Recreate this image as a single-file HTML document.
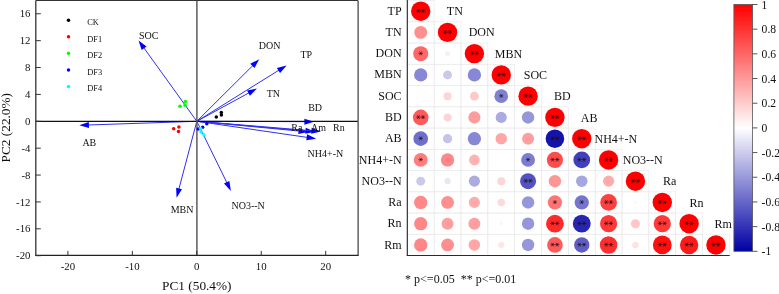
<!DOCTYPE html>
<html><head><meta charset="utf-8"><style>
html,body{margin:0;padding:0;background:#fff;width:779px;height:294px;overflow:hidden;}
svg{display:block;font-family:"Liberation Serif",serif;will-change:transform;}
</style></head><body>
<svg width="779" height="294" viewBox="0 0 779 294" font-family="Liberation Serif, serif">
<rect width="779" height="294" fill="#fff"/>
<circle cx="68.5" cy="20.2" r="1.75" fill="#000"/>
<text x="87.2" y="25.2" font-size="8.4" fill="#111">CK</text>
<circle cx="68.5" cy="36.8" r="1.75" fill="#f00"/>
<text x="87.2" y="41.8" font-size="8.4" fill="#111">DF1</text>
<circle cx="68.5" cy="53.3" r="1.75" fill="#0f0"/>
<text x="87.2" y="58.3" font-size="8.4" fill="#111">DF2</text>
<circle cx="68.5" cy="69.9" r="1.75" fill="#00f"/>
<text x="87.2" y="74.9" font-size="8.4" fill="#111">DF3</text>
<circle cx="68.5" cy="86.4" r="1.75" fill="#0ff"/>
<text x="87.2" y="91.4" font-size="8.4" fill="#111">DF4</text>
<line x1="196.8" y1="121.3" x2="143.53" y2="47.38" stroke="#3030f0" stroke-width="1.0"/>
<polygon points="138.50,40.40 146.55,46.43 141.68,49.94" fill="#00f"/>
<line x1="196.8" y1="121.3" x2="253.10" y2="65.27" stroke="#3030f0" stroke-width="1.0"/>
<polygon points="259.20,59.20 254.51,68.10 250.28,63.85" fill="#00f"/>
<line x1="196.8" y1="121.3" x2="279.30" y2="69.94" stroke="#3030f0" stroke-width="1.0"/>
<polygon points="286.60,65.40 280.04,73.02 276.86,67.93" fill="#00f"/>
<line x1="196.8" y1="121.3" x2="249.35" y2="92.62" stroke="#3030f0" stroke-width="1.0"/>
<polygon points="256.90,88.50 249.91,95.73 247.04,90.47" fill="#00f"/>
<line x1="196.8" y1="121.3" x2="305.40" y2="121.67" stroke="#3030f0" stroke-width="1.0"/>
<polygon points="314.00,121.70 304.39,124.67 304.41,118.67" fill="#00f"/>
<line x1="196.8" y1="121.3" x2="299.54" y2="131.08" stroke="#3030f0" stroke-width="1.0"/>
<polygon points="308.10,131.90 298.26,133.98 298.83,128.00" fill="#00f"/>
<line x1="196.8" y1="121.3" x2="306.53" y2="130.95" stroke="#3030f0" stroke-width="1.0"/>
<polygon points="315.10,131.70 305.27,133.85 305.80,127.87" fill="#00f"/>
<line x1="196.8" y1="121.3" x2="312.43" y2="130.80" stroke="#3030f0" stroke-width="1.0"/>
<polygon points="321.00,131.50 311.19,133.70 311.68,127.72" fill="#00f"/>
<line x1="196.8" y1="121.3" x2="307.69" y2="137.46" stroke="#3030f0" stroke-width="1.0"/>
<polygon points="316.20,138.70 306.27,140.28 307.13,134.35" fill="#00f"/>
<line x1="196.8" y1="121.3" x2="227.12" y2="183.18" stroke="#3030f0" stroke-width="1.0"/>
<polygon points="230.90,190.90 223.98,183.60 229.37,180.96" fill="#00f"/>
<line x1="196.8" y1="121.3" x2="178.80" y2="189.39" stroke="#3030f0" stroke-width="1.0"/>
<polygon points="176.60,197.70 176.15,187.65 181.95,189.19" fill="#00f"/>
<line x1="196.8" y1="121.3" x2="87.90" y2="125.01" stroke="#3030f0" stroke-width="1.0"/>
<polygon points="79.30,125.30 88.79,121.98 89.00,127.97" fill="#00f"/>
<line x1="35.8" y1="121.3" x2="358.0" y2="121.3" stroke="#111" stroke-width="1.2"/>
<line x1="196.9" y1="0.5" x2="196.9" y2="255.4" stroke="#5c5c5c" stroke-width="1.5"/>
<circle cx="216.3" cy="116.9" r="1.75" fill="#000"/>
<circle cx="221.3" cy="112.5" r="1.75" fill="#000"/>
<circle cx="221.4" cy="114.9" r="1.75" fill="#000"/>
<circle cx="173.7" cy="128.7" r="1.75" fill="#f00"/>
<circle cx="178.9" cy="127.0" r="1.75" fill="#f00"/>
<circle cx="178.5" cy="131.4" r="1.75" fill="#f00"/>
<circle cx="180.0" cy="106.2" r="1.75" fill="#0f0"/>
<circle cx="185.4" cy="101.4" r="1.75" fill="#0f0"/>
<circle cx="185.0" cy="105.3" r="1.75" fill="#0f0"/>
<circle cx="206.8" cy="123.8" r="1.75" fill="#00f"/>
<circle cx="202.6" cy="127.2" r="1.75" fill="#00f"/>
<circle cx="198.2" cy="129.0" r="1.75" fill="#00f"/>
<circle cx="200.6" cy="128.6" r="1.75" fill="#0ff"/>
<circle cx="201.1" cy="132.0" r="1.75" fill="#0ff"/>
<circle cx="204.0" cy="135.0" r="1.75" fill="#0ff"/>
<text x="139" y="38.7" font-size="10" fill="#111">SOC</text>
<text x="258.7" y="48.5" font-size="10" fill="#111">DON</text>
<text x="300.4" y="58.2" font-size="10" fill="#111">TP</text>
<text x="266.7" y="97.4" font-size="10" fill="#111">TN</text>
<text x="308.2" y="110.9" font-size="10" fill="#111">BD</text>
<text x="291.3" y="130.9" font-size="10" fill="#111">Ra</text>
<text x="311.1" y="130.9" font-size="10" fill="#111">Am</text>
<text x="333.0" y="130.9" font-size="10" fill="#111">Rn</text>
<text x="307.6" y="156.5" font-size="10" fill="#111">NH4+-N</text>
<text x="231.5" y="209.2" font-size="10" fill="#111">NO3--N</text>
<text x="170.7" y="213.3" font-size="10" fill="#111">MBN</text>
<text x="82.4" y="145.8" font-size="10" fill="#111">AB</text>
<line x1="35.8" y1="0.5" x2="358.0" y2="0.5" stroke="#333" stroke-width="1.2"/>
<line x1="358.1" y1="0.5" x2="358.1" y2="255.4" stroke="#4a4a4a" stroke-width="1.3"/>
<line x1="35.8" y1="0.5" x2="35.8" y2="255.4" stroke="#333" stroke-width="1.3"/>
<line x1="35.199999999999996" y1="255.4" x2="358.6" y2="255.4" stroke="#222" stroke-width="1.2"/>
<line x1="35.8" y1="255.70" x2="40.8" y2="255.70" stroke="#333" stroke-width="1"/>
<text x="30.5" y="259.30" font-size="10.8" text-anchor="end" fill="#111">-20</text>
<line x1="35.8" y1="228.82" x2="40.8" y2="228.82" stroke="#333" stroke-width="1"/>
<text x="30.5" y="232.42" font-size="10.8" text-anchor="end" fill="#111">-16</text>
<line x1="35.8" y1="201.94" x2="40.8" y2="201.94" stroke="#333" stroke-width="1"/>
<text x="30.5" y="205.54" font-size="10.8" text-anchor="end" fill="#111">-12</text>
<line x1="35.8" y1="175.06" x2="40.8" y2="175.06" stroke="#333" stroke-width="1"/>
<text x="30.5" y="178.66" font-size="10.8" text-anchor="end" fill="#111">-8</text>
<line x1="35.8" y1="148.18" x2="40.8" y2="148.18" stroke="#333" stroke-width="1"/>
<text x="30.5" y="151.78" font-size="10.8" text-anchor="end" fill="#111">-4</text>
<line x1="35.8" y1="121.30" x2="40.8" y2="121.30" stroke="#333" stroke-width="1"/>
<text x="30.5" y="124.90" font-size="10.8" text-anchor="end" fill="#111">0</text>
<line x1="35.8" y1="94.42" x2="40.8" y2="94.42" stroke="#333" stroke-width="1"/>
<text x="30.5" y="98.02" font-size="10.8" text-anchor="end" fill="#111">4</text>
<line x1="35.8" y1="67.54" x2="40.8" y2="67.54" stroke="#333" stroke-width="1"/>
<text x="30.5" y="71.14" font-size="10.8" text-anchor="end" fill="#111">8</text>
<line x1="35.8" y1="40.66" x2="40.8" y2="40.66" stroke="#333" stroke-width="1"/>
<text x="30.5" y="44.26" font-size="10.8" text-anchor="end" fill="#111">12</text>
<line x1="35.8" y1="13.78" x2="40.8" y2="13.78" stroke="#333" stroke-width="1"/>
<text x="30.5" y="17.38" font-size="10.8" text-anchor="end" fill="#111">16</text>
<line x1="67.90" y1="255.4" x2="67.90" y2="250.9" stroke="#333" stroke-width="1"/>
<text x="67.90" y="269.9" font-size="10.8" text-anchor="middle" fill="#111">-20</text>
<line x1="132.35" y1="255.4" x2="132.35" y2="250.9" stroke="#333" stroke-width="1"/>
<text x="132.35" y="269.9" font-size="10.8" text-anchor="middle" fill="#111">-10</text>
<line x1="196.80" y1="255.4" x2="196.80" y2="250.9" stroke="#333" stroke-width="1"/>
<text x="196.80" y="269.9" font-size="10.8" text-anchor="middle" fill="#111">0</text>
<line x1="261.25" y1="255.4" x2="261.25" y2="250.9" stroke="#333" stroke-width="1"/>
<text x="261.25" y="269.9" font-size="10.8" text-anchor="middle" fill="#111">10</text>
<line x1="325.70" y1="255.4" x2="325.70" y2="250.9" stroke="#333" stroke-width="1"/>
<text x="325.70" y="269.9" font-size="10.8" text-anchor="middle" fill="#111">20</text>
<text x="196.8" y="290.3" font-size="13.3" text-anchor="middle" fill="#111">PC1 (50.4%)</text>
<text transform="translate(10.2,127.7) rotate(-90)" x="0" y="0" font-size="13.3" text-anchor="middle" fill="#111">PC2 (22.0%)</text>
<rect x="407.30" y="0.55" width="26.84" height="21.25" fill="none" stroke="#ebebeb" stroke-width="0.7"/>
<rect x="407.30" y="21.80" width="26.84" height="21.25" fill="none" stroke="#ebebeb" stroke-width="0.7"/>
<rect x="434.14" y="21.80" width="26.84" height="21.25" fill="none" stroke="#ebebeb" stroke-width="0.7"/>
<rect x="407.30" y="43.05" width="26.84" height="21.25" fill="none" stroke="#ebebeb" stroke-width="0.7"/>
<rect x="434.14" y="43.05" width="26.84" height="21.25" fill="none" stroke="#ebebeb" stroke-width="0.7"/>
<rect x="460.98" y="43.05" width="26.84" height="21.25" fill="none" stroke="#ebebeb" stroke-width="0.7"/>
<rect x="407.30" y="64.30" width="26.84" height="21.25" fill="none" stroke="#ebebeb" stroke-width="0.7"/>
<rect x="434.14" y="64.30" width="26.84" height="21.25" fill="none" stroke="#ebebeb" stroke-width="0.7"/>
<rect x="460.98" y="64.30" width="26.84" height="21.25" fill="none" stroke="#ebebeb" stroke-width="0.7"/>
<rect x="487.82" y="64.30" width="26.84" height="21.25" fill="none" stroke="#ebebeb" stroke-width="0.7"/>
<rect x="407.30" y="85.55" width="26.84" height="21.25" fill="none" stroke="#ebebeb" stroke-width="0.7"/>
<rect x="434.14" y="85.55" width="26.84" height="21.25" fill="none" stroke="#ebebeb" stroke-width="0.7"/>
<rect x="460.98" y="85.55" width="26.84" height="21.25" fill="none" stroke="#ebebeb" stroke-width="0.7"/>
<rect x="487.82" y="85.55" width="26.84" height="21.25" fill="none" stroke="#ebebeb" stroke-width="0.7"/>
<rect x="514.66" y="85.55" width="26.84" height="21.25" fill="none" stroke="#ebebeb" stroke-width="0.7"/>
<rect x="407.30" y="106.80" width="26.84" height="21.25" fill="none" stroke="#ebebeb" stroke-width="0.7"/>
<rect x="434.14" y="106.80" width="26.84" height="21.25" fill="none" stroke="#ebebeb" stroke-width="0.7"/>
<rect x="460.98" y="106.80" width="26.84" height="21.25" fill="none" stroke="#ebebeb" stroke-width="0.7"/>
<rect x="487.82" y="106.80" width="26.84" height="21.25" fill="none" stroke="#ebebeb" stroke-width="0.7"/>
<rect x="514.66" y="106.80" width="26.84" height="21.25" fill="none" stroke="#ebebeb" stroke-width="0.7"/>
<rect x="541.50" y="106.80" width="26.84" height="21.25" fill="none" stroke="#ebebeb" stroke-width="0.7"/>
<rect x="407.30" y="128.05" width="26.84" height="21.25" fill="none" stroke="#ebebeb" stroke-width="0.7"/>
<rect x="434.14" y="128.05" width="26.84" height="21.25" fill="none" stroke="#ebebeb" stroke-width="0.7"/>
<rect x="460.98" y="128.05" width="26.84" height="21.25" fill="none" stroke="#ebebeb" stroke-width="0.7"/>
<rect x="487.82" y="128.05" width="26.84" height="21.25" fill="none" stroke="#ebebeb" stroke-width="0.7"/>
<rect x="514.66" y="128.05" width="26.84" height="21.25" fill="none" stroke="#ebebeb" stroke-width="0.7"/>
<rect x="541.50" y="128.05" width="26.84" height="21.25" fill="none" stroke="#ebebeb" stroke-width="0.7"/>
<rect x="568.34" y="128.05" width="26.84" height="21.25" fill="none" stroke="#ebebeb" stroke-width="0.7"/>
<rect x="407.30" y="149.30" width="26.84" height="21.25" fill="none" stroke="#ebebeb" stroke-width="0.7"/>
<rect x="434.14" y="149.30" width="26.84" height="21.25" fill="none" stroke="#ebebeb" stroke-width="0.7"/>
<rect x="460.98" y="149.30" width="26.84" height="21.25" fill="none" stroke="#ebebeb" stroke-width="0.7"/>
<rect x="487.82" y="149.30" width="26.84" height="21.25" fill="none" stroke="#ebebeb" stroke-width="0.7"/>
<rect x="514.66" y="149.30" width="26.84" height="21.25" fill="none" stroke="#ebebeb" stroke-width="0.7"/>
<rect x="541.50" y="149.30" width="26.84" height="21.25" fill="none" stroke="#ebebeb" stroke-width="0.7"/>
<rect x="568.34" y="149.30" width="26.84" height="21.25" fill="none" stroke="#ebebeb" stroke-width="0.7"/>
<rect x="595.18" y="149.30" width="26.84" height="21.25" fill="none" stroke="#ebebeb" stroke-width="0.7"/>
<rect x="407.30" y="170.55" width="26.84" height="21.25" fill="none" stroke="#ebebeb" stroke-width="0.7"/>
<rect x="434.14" y="170.55" width="26.84" height="21.25" fill="none" stroke="#ebebeb" stroke-width="0.7"/>
<rect x="460.98" y="170.55" width="26.84" height="21.25" fill="none" stroke="#ebebeb" stroke-width="0.7"/>
<rect x="487.82" y="170.55" width="26.84" height="21.25" fill="none" stroke="#ebebeb" stroke-width="0.7"/>
<rect x="514.66" y="170.55" width="26.84" height="21.25" fill="none" stroke="#ebebeb" stroke-width="0.7"/>
<rect x="541.50" y="170.55" width="26.84" height="21.25" fill="none" stroke="#ebebeb" stroke-width="0.7"/>
<rect x="568.34" y="170.55" width="26.84" height="21.25" fill="none" stroke="#ebebeb" stroke-width="0.7"/>
<rect x="595.18" y="170.55" width="26.84" height="21.25" fill="none" stroke="#ebebeb" stroke-width="0.7"/>
<rect x="622.02" y="170.55" width="26.84" height="21.25" fill="none" stroke="#ebebeb" stroke-width="0.7"/>
<rect x="407.30" y="191.80" width="26.84" height="21.25" fill="none" stroke="#ebebeb" stroke-width="0.7"/>
<rect x="434.14" y="191.80" width="26.84" height="21.25" fill="none" stroke="#ebebeb" stroke-width="0.7"/>
<rect x="460.98" y="191.80" width="26.84" height="21.25" fill="none" stroke="#ebebeb" stroke-width="0.7"/>
<rect x="487.82" y="191.80" width="26.84" height="21.25" fill="none" stroke="#ebebeb" stroke-width="0.7"/>
<rect x="514.66" y="191.80" width="26.84" height="21.25" fill="none" stroke="#ebebeb" stroke-width="0.7"/>
<rect x="541.50" y="191.80" width="26.84" height="21.25" fill="none" stroke="#ebebeb" stroke-width="0.7"/>
<rect x="568.34" y="191.80" width="26.84" height="21.25" fill="none" stroke="#ebebeb" stroke-width="0.7"/>
<rect x="595.18" y="191.80" width="26.84" height="21.25" fill="none" stroke="#ebebeb" stroke-width="0.7"/>
<rect x="622.02" y="191.80" width="26.84" height="21.25" fill="none" stroke="#ebebeb" stroke-width="0.7"/>
<rect x="648.86" y="191.80" width="26.84" height="21.25" fill="none" stroke="#ebebeb" stroke-width="0.7"/>
<rect x="407.30" y="213.05" width="26.84" height="21.25" fill="none" stroke="#ebebeb" stroke-width="0.7"/>
<rect x="434.14" y="213.05" width="26.84" height="21.25" fill="none" stroke="#ebebeb" stroke-width="0.7"/>
<rect x="460.98" y="213.05" width="26.84" height="21.25" fill="none" stroke="#ebebeb" stroke-width="0.7"/>
<rect x="487.82" y="213.05" width="26.84" height="21.25" fill="none" stroke="#ebebeb" stroke-width="0.7"/>
<rect x="514.66" y="213.05" width="26.84" height="21.25" fill="none" stroke="#ebebeb" stroke-width="0.7"/>
<rect x="541.50" y="213.05" width="26.84" height="21.25" fill="none" stroke="#ebebeb" stroke-width="0.7"/>
<rect x="568.34" y="213.05" width="26.84" height="21.25" fill="none" stroke="#ebebeb" stroke-width="0.7"/>
<rect x="595.18" y="213.05" width="26.84" height="21.25" fill="none" stroke="#ebebeb" stroke-width="0.7"/>
<rect x="622.02" y="213.05" width="26.84" height="21.25" fill="none" stroke="#ebebeb" stroke-width="0.7"/>
<rect x="648.86" y="213.05" width="26.84" height="21.25" fill="none" stroke="#ebebeb" stroke-width="0.7"/>
<rect x="675.70" y="213.05" width="26.84" height="21.25" fill="none" stroke="#ebebeb" stroke-width="0.7"/>
<rect x="407.30" y="234.30" width="26.84" height="21.25" fill="none" stroke="#ebebeb" stroke-width="0.7"/>
<rect x="434.14" y="234.30" width="26.84" height="21.25" fill="none" stroke="#ebebeb" stroke-width="0.7"/>
<rect x="460.98" y="234.30" width="26.84" height="21.25" fill="none" stroke="#ebebeb" stroke-width="0.7"/>
<rect x="487.82" y="234.30" width="26.84" height="21.25" fill="none" stroke="#ebebeb" stroke-width="0.7"/>
<rect x="514.66" y="234.30" width="26.84" height="21.25" fill="none" stroke="#ebebeb" stroke-width="0.7"/>
<rect x="541.50" y="234.30" width="26.84" height="21.25" fill="none" stroke="#ebebeb" stroke-width="0.7"/>
<rect x="568.34" y="234.30" width="26.84" height="21.25" fill="none" stroke="#ebebeb" stroke-width="0.7"/>
<rect x="595.18" y="234.30" width="26.84" height="21.25" fill="none" stroke="#ebebeb" stroke-width="0.7"/>
<rect x="622.02" y="234.30" width="26.84" height="21.25" fill="none" stroke="#ebebeb" stroke-width="0.7"/>
<rect x="648.86" y="234.30" width="26.84" height="21.25" fill="none" stroke="#ebebeb" stroke-width="0.7"/>
<rect x="675.70" y="234.30" width="26.84" height="21.25" fill="none" stroke="#ebebeb" stroke-width="0.7"/>
<rect x="702.54" y="234.30" width="26.84" height="21.25" fill="none" stroke="#ebebeb" stroke-width="0.7"/>
<circle cx="420.72" cy="11.18" r="9.70" fill="rgb(255,0,0)"/>
<path d="M416.22,10.88L420.62,10.88M417.32,8.97L419.52,12.78M419.52,8.97L417.32,12.78" stroke="#200808" stroke-opacity="0.65" stroke-width="0.95" fill="none"/>
<path d="M420.82,10.88L425.22,10.88M421.92,8.97L424.12,12.78M424.12,8.97L421.92,12.78" stroke="#200808" stroke-opacity="0.65" stroke-width="0.95" fill="none"/>
<circle cx="420.72" cy="32.42" r="6.43" fill="rgb(255,143,143)"/>
<circle cx="447.56" cy="32.42" r="9.70" fill="rgb(255,0,0)"/>
<path d="M443.06,32.12L447.46,32.12M444.16,30.22L446.36,34.03M446.36,30.22L444.16,34.03" stroke="#200808" stroke-opacity="0.65" stroke-width="0.95" fill="none"/>
<path d="M447.66,32.12L452.06,32.12M448.76,30.22L450.96,34.03M450.96,30.22L448.76,34.03" stroke="#200808" stroke-opacity="0.65" stroke-width="0.95" fill="none"/>
<circle cx="420.72" cy="53.67" r="7.51" fill="rgb(255,102,102)"/>
<path d="M418.52,53.38L422.92,53.38M419.62,51.47L421.82,55.28M421.82,51.47L419.62,55.28" stroke="#200808" stroke-opacity="0.65" stroke-width="0.95" fill="none"/>
<circle cx="447.56" cy="53.67" r="2.57" fill="rgb(255,237,237)"/>
<circle cx="474.40" cy="53.67" r="9.70" fill="rgb(255,0,0)"/>
<path d="M469.90,53.38L474.30,53.38M471.00,51.47L473.20,55.28M473.20,51.47L471.00,55.28" stroke="#200808" stroke-opacity="0.65" stroke-width="0.95" fill="none"/>
<path d="M474.50,53.38L478.90,53.38M475.60,51.47L477.80,55.28M477.80,51.47L475.60,55.28" stroke="#200808" stroke-opacity="0.65" stroke-width="0.95" fill="none"/>
<circle cx="420.72" cy="74.92" r="6.65" fill="rgb(135,135,213)"/>
<circle cx="447.56" cy="74.92" r="4.45" fill="rgb(201,201,236)"/>
<circle cx="474.40" cy="74.92" r="6.65" fill="rgb(135,135,213)"/>
<circle cx="501.24" cy="74.92" r="9.70" fill="rgb(255,0,0)"/>
<path d="M496.74,74.62L501.14,74.62M497.84,72.72L500.04,76.53M500.04,72.72L497.84,76.53" stroke="#200808" stroke-opacity="0.65" stroke-width="0.95" fill="none"/>
<path d="M501.34,74.62L505.74,74.62M502.44,72.72L504.64,76.53M504.64,72.72L502.44,76.53" stroke="#200808" stroke-opacity="0.65" stroke-width="0.95" fill="none"/>
<circle cx="420.72" cy="96.17" r="1.37" fill="rgb(255,250,250)"/>
<circle cx="447.56" cy="96.17" r="4.00" fill="rgb(255,212,212)"/>
<circle cx="474.40" cy="96.17" r="4.45" fill="rgb(255,201,201)"/>
<circle cx="501.24" cy="96.17" r="6.86" fill="rgb(128,128,210)"/>
<path d="M499.04,95.88L503.44,95.88M500.14,93.97L502.34,97.78M502.34,93.97L500.14,97.78" stroke="#200808" stroke-opacity="0.65" stroke-width="0.95" fill="none"/>
<circle cx="528.08" cy="96.17" r="9.70" fill="rgb(255,0,0)"/>
<path d="M523.58,95.88L527.98,95.88M524.68,93.97L526.88,97.78M526.88,93.97L524.68,97.78" stroke="#200808" stroke-opacity="0.65" stroke-width="0.95" fill="none"/>
<path d="M528.18,95.88L532.58,95.88M529.28,93.97L531.48,97.78M531.48,93.97L529.28,97.78" stroke="#200808" stroke-opacity="0.65" stroke-width="0.95" fill="none"/>
<circle cx="420.72" cy="117.42" r="7.82" fill="rgb(255,89,89)"/>
<path d="M416.22,117.12L420.62,117.12M417.32,115.22L419.52,119.03M419.52,115.22L417.32,119.03" stroke="#200808" stroke-opacity="0.65" stroke-width="0.95" fill="none"/>
<path d="M420.82,117.12L425.22,117.12M421.92,115.22L424.12,119.03M424.12,115.22L421.92,119.03" stroke="#200808" stroke-opacity="0.65" stroke-width="0.95" fill="none"/>
<circle cx="447.56" cy="117.42" r="4.00" fill="rgb(255,212,212)"/>
<circle cx="474.40" cy="117.42" r="6.06" fill="rgb(255,156,156)"/>
<circle cx="501.24" cy="117.42" r="5.57" fill="rgb(171,171,225)"/>
<circle cx="528.08" cy="117.42" r="6.21" fill="rgb(150,150,218)"/>
<circle cx="554.92" cy="117.42" r="9.70" fill="rgb(255,0,0)"/>
<path d="M550.42,117.12L554.82,117.12M551.52,115.22L553.72,119.03M553.72,115.22L551.52,119.03" stroke="#200808" stroke-opacity="0.65" stroke-width="0.95" fill="none"/>
<path d="M555.02,117.12L559.42,117.12M556.12,115.22L558.32,119.03M558.32,115.22L556.12,119.03" stroke="#200808" stroke-opacity="0.65" stroke-width="0.95" fill="none"/>
<circle cx="420.72" cy="138.68" r="7.32" fill="rgb(110,110,204)"/>
<path d="M418.52,138.38L422.92,138.38M419.62,136.47L421.82,140.28M421.82,136.47L419.62,140.28" stroke="#200808" stroke-opacity="0.65" stroke-width="0.95" fill="none"/>
<circle cx="447.56" cy="138.68" r="4.65" fill="rgb(196,196,234)"/>
<circle cx="474.40" cy="138.68" r="6.65" fill="rgb(135,135,213)"/>
<circle cx="501.24" cy="138.68" r="5.74" fill="rgb(255,166,166)"/>
<circle cx="528.08" cy="138.68" r="5.98" fill="rgb(255,158,158)"/>
<circle cx="554.92" cy="138.68" r="9.30" fill="rgb(20,20,172)"/>
<path d="M550.42,138.38L554.82,138.38M551.52,136.47L553.72,140.28M553.72,136.47L551.52,140.28" stroke="#200808" stroke-opacity="0.65" stroke-width="0.95" fill="none"/>
<path d="M555.02,138.38L559.42,138.38M556.12,136.47L558.32,140.28M558.32,136.47L556.12,140.28" stroke="#200808" stroke-opacity="0.65" stroke-width="0.95" fill="none"/>
<circle cx="581.76" cy="138.68" r="9.70" fill="rgb(255,0,0)"/>
<path d="M577.26,138.38L581.66,138.38M578.36,136.47L580.56,140.28M580.56,136.47L578.36,140.28" stroke="#200808" stroke-opacity="0.65" stroke-width="0.95" fill="none"/>
<path d="M581.86,138.38L586.26,138.38M582.96,136.47L585.16,140.28M585.16,136.47L582.96,140.28" stroke="#200808" stroke-opacity="0.65" stroke-width="0.95" fill="none"/>
<circle cx="420.72" cy="159.93" r="6.93" fill="rgb(255,125,125)"/>
<path d="M418.52,159.62L422.92,159.62M419.62,157.72L421.82,161.53M421.82,157.72L419.62,161.53" stroke="#200808" stroke-opacity="0.65" stroke-width="0.95" fill="none"/>
<circle cx="447.56" cy="159.93" r="6.65" fill="rgb(255,135,135)"/>
<circle cx="474.40" cy="159.93" r="5.31" fill="rgb(255,178,178)"/>
<circle cx="528.08" cy="159.93" r="6.93" fill="rgb(125,125,209)"/>
<path d="M525.88,159.62L530.28,159.62M526.98,157.72L529.18,161.53M529.18,157.72L526.98,161.53" stroke="#200808" stroke-opacity="0.65" stroke-width="0.95" fill="none"/>
<circle cx="554.92" cy="159.93" r="8.12" fill="rgb(255,77,77)"/>
<path d="M550.42,159.62L554.82,159.62M551.52,157.72L553.72,161.53M553.72,157.72L551.52,161.53" stroke="#200808" stroke-opacity="0.65" stroke-width="0.95" fill="none"/>
<path d="M555.02,159.62L559.42,159.62M556.12,157.72L558.32,161.53M558.32,157.72L556.12,161.53" stroke="#200808" stroke-opacity="0.65" stroke-width="0.95" fill="none"/>
<circle cx="581.76" cy="159.93" r="8.40" fill="rgb(64,64,188)"/>
<path d="M577.26,159.62L581.66,159.62M578.36,157.72L580.56,161.53M580.56,157.72L578.36,161.53" stroke="#200808" stroke-opacity="0.65" stroke-width="0.95" fill="none"/>
<path d="M581.86,159.62L586.26,159.62M582.96,157.72L585.16,161.53M585.16,157.72L582.96,161.53" stroke="#200808" stroke-opacity="0.65" stroke-width="0.95" fill="none"/>
<circle cx="608.60" cy="159.93" r="9.70" fill="rgb(255,0,0)"/>
<path d="M604.10,159.62L608.50,159.62M605.20,157.72L607.40,161.53M607.40,157.72L605.20,161.53" stroke="#200808" stroke-opacity="0.65" stroke-width="0.95" fill="none"/>
<path d="M608.70,159.62L613.10,159.62M609.80,157.72L612.00,161.53M612.00,157.72L609.80,161.53" stroke="#200808" stroke-opacity="0.65" stroke-width="0.95" fill="none"/>
<circle cx="420.72" cy="181.18" r="4.45" fill="rgb(201,201,236)"/>
<circle cx="447.56" cy="181.18" r="3.07" fill="rgb(230,230,246)"/>
<circle cx="474.40" cy="181.18" r="5.57" fill="rgb(171,171,225)"/>
<circle cx="501.24" cy="181.18" r="4.00" fill="rgb(255,212,212)"/>
<circle cx="528.08" cy="181.18" r="8.00" fill="rgb(82,82,194)"/>
<path d="M523.58,180.88L527.98,180.88M524.68,178.97L526.88,182.78M526.88,178.97L524.68,182.78" stroke="#200808" stroke-opacity="0.65" stroke-width="0.95" fill="none"/>
<path d="M528.18,180.88L532.58,180.88M529.28,178.97L531.48,182.78M531.48,178.97L529.28,182.78" stroke="#200808" stroke-opacity="0.65" stroke-width="0.95" fill="none"/>
<circle cx="554.92" cy="181.18" r="6.21" fill="rgb(255,150,150)"/>
<circle cx="581.76" cy="181.18" r="5.74" fill="rgb(166,166,224)"/>
<circle cx="608.60" cy="181.18" r="5.57" fill="rgb(255,171,171)"/>
<circle cx="635.44" cy="181.18" r="9.70" fill="rgb(255,0,0)"/>
<path d="M630.94,180.88L635.34,180.88M632.04,178.97L634.24,182.78M634.24,178.97L632.04,182.78" stroke="#200808" stroke-opacity="0.65" stroke-width="0.95" fill="none"/>
<path d="M635.54,180.88L639.94,180.88M636.64,178.97L638.84,182.78M638.84,178.97L636.64,182.78" stroke="#200808" stroke-opacity="0.65" stroke-width="0.95" fill="none"/>
<circle cx="420.72" cy="202.43" r="6.65" fill="rgb(255,135,135)"/>
<circle cx="447.56" cy="202.43" r="6.43" fill="rgb(255,143,143)"/>
<circle cx="474.40" cy="202.43" r="5.57" fill="rgb(255,171,171)"/>
<circle cx="501.24" cy="202.43" r="3.76" fill="rgb(255,217,217)"/>
<circle cx="528.08" cy="202.43" r="6.21" fill="rgb(150,150,218)"/>
<circle cx="554.92" cy="202.43" r="7.13" fill="rgb(255,117,117)"/>
<path d="M552.72,202.12L557.12,202.12M553.82,200.22L556.02,204.03M556.02,200.22L553.82,204.03" stroke="#200808" stroke-opacity="0.65" stroke-width="0.95" fill="none"/>
<circle cx="581.76" cy="202.43" r="7.13" fill="rgb(117,117,206)"/>
<path d="M579.56,202.12L583.96,202.12M580.66,200.22L582.86,204.03M582.86,200.22L580.66,204.03" stroke="#200808" stroke-opacity="0.65" stroke-width="0.95" fill="none"/>
<circle cx="608.60" cy="202.43" r="8.40" fill="rgb(255,64,64)"/>
<path d="M604.10,202.12L608.50,202.12M605.20,200.22L607.40,204.03M607.40,200.22L605.20,204.03" stroke="#200808" stroke-opacity="0.65" stroke-width="0.95" fill="none"/>
<path d="M608.70,202.12L613.10,202.12M609.80,200.22L612.00,204.03M612.00,200.22L609.80,204.03" stroke="#200808" stroke-opacity="0.65" stroke-width="0.95" fill="none"/>
<circle cx="635.44" cy="202.43" r="1.68" fill="rgb(255,247,247)"/>
<circle cx="662.28" cy="202.43" r="9.70" fill="rgb(255,0,0)"/>
<path d="M657.78,202.12L662.18,202.12M658.88,200.22L661.08,204.03M661.08,200.22L658.88,204.03" stroke="#200808" stroke-opacity="0.65" stroke-width="0.95" fill="none"/>
<path d="M662.38,202.12L666.78,202.12M663.48,200.22L665.68,204.03M665.68,200.22L663.48,204.03" stroke="#200808" stroke-opacity="0.65" stroke-width="0.95" fill="none"/>
<circle cx="420.72" cy="223.68" r="6.65" fill="rgb(255,135,135)"/>
<circle cx="447.56" cy="223.68" r="5.98" fill="rgb(255,158,158)"/>
<circle cx="474.40" cy="223.68" r="5.98" fill="rgb(255,158,158)"/>
<circle cx="501.24" cy="223.68" r="1.94" fill="rgb(255,245,245)"/>
<circle cx="528.08" cy="223.68" r="6.21" fill="rgb(150,150,218)"/>
<circle cx="554.92" cy="223.68" r="8.89" fill="rgb(255,41,41)"/>
<path d="M550.42,223.38L554.82,223.38M551.52,221.47L553.72,225.28M553.72,221.47L551.52,225.28" stroke="#200808" stroke-opacity="0.65" stroke-width="0.95" fill="none"/>
<path d="M555.02,223.38L559.42,223.38M556.12,221.47L558.32,225.28M558.32,221.47L556.12,225.28" stroke="#200808" stroke-opacity="0.65" stroke-width="0.95" fill="none"/>
<circle cx="581.76" cy="223.68" r="8.94" fill="rgb(38,38,178)"/>
<path d="M577.26,223.38L581.66,223.38M578.36,221.47L580.56,225.28M580.56,221.47L578.36,225.28" stroke="#200808" stroke-opacity="0.65" stroke-width="0.95" fill="none"/>
<path d="M581.86,223.38L586.26,223.38M582.96,221.47L585.16,225.28M585.16,221.47L582.96,225.28" stroke="#200808" stroke-opacity="0.65" stroke-width="0.95" fill="none"/>
<circle cx="608.60" cy="223.68" r="8.57" fill="rgb(255,56,56)"/>
<path d="M604.10,223.38L608.50,223.38M605.20,221.47L607.40,225.28M607.40,221.47L605.20,225.28" stroke="#200808" stroke-opacity="0.65" stroke-width="0.95" fill="none"/>
<path d="M608.70,223.38L613.10,223.38M609.80,221.47L612.00,225.28M612.00,221.47L609.80,225.28" stroke="#200808" stroke-opacity="0.65" stroke-width="0.95" fill="none"/>
<circle cx="635.44" cy="223.68" r="4.55" fill="rgb(255,199,199)"/>
<circle cx="662.28" cy="223.68" r="8.57" fill="rgb(255,56,56)"/>
<path d="M657.78,223.38L662.18,223.38M658.88,221.47L661.08,225.28M661.08,221.47L658.88,225.28" stroke="#200808" stroke-opacity="0.65" stroke-width="0.95" fill="none"/>
<path d="M662.38,223.38L666.78,223.38M663.48,221.47L665.68,225.28M665.68,221.47L663.48,225.28" stroke="#200808" stroke-opacity="0.65" stroke-width="0.95" fill="none"/>
<circle cx="689.12" cy="223.68" r="9.70" fill="rgb(255,0,0)"/>
<path d="M684.62,223.38L689.02,223.38M685.72,221.47L687.92,225.28M687.92,221.47L685.72,225.28" stroke="#200808" stroke-opacity="0.65" stroke-width="0.95" fill="none"/>
<path d="M689.22,223.38L693.62,223.38M690.32,221.47L692.52,225.28M692.52,221.47L690.32,225.28" stroke="#200808" stroke-opacity="0.65" stroke-width="0.95" fill="none"/>
<circle cx="420.72" cy="244.93" r="6.65" fill="rgb(255,135,135)"/>
<circle cx="447.56" cy="244.93" r="6.43" fill="rgb(255,143,143)"/>
<circle cx="474.40" cy="244.93" r="5.74" fill="rgb(255,166,166)"/>
<circle cx="501.24" cy="244.93" r="3.07" fill="rgb(255,230,230)"/>
<circle cx="528.08" cy="244.93" r="6.21" fill="rgb(150,150,218)"/>
<circle cx="554.92" cy="244.93" r="7.82" fill="rgb(255,89,89)"/>
<path d="M550.42,244.62L554.82,244.62M551.52,242.72L553.72,246.53M553.72,242.72L551.52,246.53" stroke="#200808" stroke-opacity="0.65" stroke-width="0.95" fill="none"/>
<path d="M555.02,244.62L559.42,244.62M556.12,242.72L558.32,246.53M558.32,242.72L556.12,246.53" stroke="#200808" stroke-opacity="0.65" stroke-width="0.95" fill="none"/>
<circle cx="581.76" cy="244.93" r="7.70" fill="rgb(94,94,198)"/>
<path d="M577.26,244.62L581.66,244.62M578.36,242.72L580.56,246.53M580.56,242.72L578.36,246.53" stroke="#200808" stroke-opacity="0.65" stroke-width="0.95" fill="none"/>
<path d="M581.86,244.62L586.26,244.62M582.96,242.72L585.16,246.53M585.16,242.72L582.96,246.53" stroke="#200808" stroke-opacity="0.65" stroke-width="0.95" fill="none"/>
<circle cx="608.60" cy="244.93" r="8.78" fill="rgb(255,46,46)"/>
<path d="M604.10,244.62L608.50,244.62M605.20,242.72L607.40,246.53M607.40,242.72L605.20,246.53" stroke="#200808" stroke-opacity="0.65" stroke-width="0.95" fill="none"/>
<path d="M608.70,244.62L613.10,244.62M609.80,242.72L612.00,246.53M612.00,242.72L609.80,246.53" stroke="#200808" stroke-opacity="0.65" stroke-width="0.95" fill="none"/>
<circle cx="635.44" cy="244.93" r="3.22" fill="rgb(255,227,227)"/>
<circle cx="662.28" cy="244.93" r="9.40" fill="rgb(255,15,15)"/>
<path d="M657.78,244.62L662.18,244.62M658.88,242.72L661.08,246.53M661.08,242.72L658.88,246.53" stroke="#200808" stroke-opacity="0.65" stroke-width="0.95" fill="none"/>
<path d="M662.38,244.62L666.78,244.62M663.48,242.72L665.68,246.53M665.68,242.72L663.48,246.53" stroke="#200808" stroke-opacity="0.65" stroke-width="0.95" fill="none"/>
<circle cx="689.12" cy="244.93" r="9.20" fill="rgb(255,25,25)"/>
<path d="M684.62,244.62L689.02,244.62M685.72,242.72L687.92,246.53M687.92,242.72L685.72,246.53" stroke="#200808" stroke-opacity="0.65" stroke-width="0.95" fill="none"/>
<path d="M689.22,244.62L693.62,244.62M690.32,242.72L692.52,246.53M692.52,242.72L690.32,246.53" stroke="#200808" stroke-opacity="0.65" stroke-width="0.95" fill="none"/>
<circle cx="715.96" cy="244.93" r="9.70" fill="rgb(255,0,0)"/>
<path d="M711.46,244.62L715.86,244.62M712.56,242.72L714.76,246.53M714.76,242.72L712.56,246.53" stroke="#200808" stroke-opacity="0.65" stroke-width="0.95" fill="none"/>
<path d="M716.06,244.62L720.46,244.62M717.16,242.72L719.36,246.53M719.36,242.72L717.16,246.53" stroke="#200808" stroke-opacity="0.65" stroke-width="0.95" fill="none"/>
<line x1="407.3" y1="0" x2="407.3" y2="256" stroke="#222" stroke-width="1.1"/>
<line x1="406.8" y1="255.5" x2="729.68" y2="255.5" stroke="#2a2a2a" stroke-width="1.05"/>
<text x="401.6" y="14.68" font-size="12" text-anchor="end" fill="#111">TP</text>
<text x="401.6" y="35.94" font-size="12" text-anchor="end" fill="#111">TN</text>
<text x="401.6" y="57.20" font-size="12" text-anchor="end" fill="#111">DON</text>
<text x="401.6" y="78.46" font-size="12" text-anchor="end" fill="#111">MBN</text>
<text x="401.6" y="99.72" font-size="12" text-anchor="end" fill="#111">SOC</text>
<text x="401.6" y="120.98" font-size="12" text-anchor="end" fill="#111">BD</text>
<text x="401.6" y="142.24" font-size="12" text-anchor="end" fill="#111">AB</text>
<text x="401.6" y="163.50" font-size="12" text-anchor="end" fill="#111">NH4+-N</text>
<text x="401.6" y="184.76" font-size="12" text-anchor="end" fill="#111">NO3--N</text>
<text x="401.6" y="206.02" font-size="12" text-anchor="end" fill="#111">Ra</text>
<text x="401.6" y="227.28" font-size="12" text-anchor="end" fill="#111">Rn</text>
<text x="401.6" y="248.54" font-size="12" text-anchor="end" fill="#111">Rm</text>
<text x="454.86" y="15.13" font-size="12" text-anchor="middle" fill="#111">TN</text>
<text x="481.70" y="36.41" font-size="12" text-anchor="middle" fill="#111">DON</text>
<text x="508.54" y="57.69" font-size="12" text-anchor="middle" fill="#111">MBN</text>
<text x="535.38" y="78.97" font-size="12" text-anchor="middle" fill="#111">SOC</text>
<text x="562.22" y="100.25" font-size="12" text-anchor="middle" fill="#111">BD</text>
<text x="589.06" y="121.53" font-size="12" text-anchor="middle" fill="#111">AB</text>
<text x="615.90" y="142.81" font-size="12" text-anchor="middle" fill="#111">NH4+-N</text>
<text x="642.74" y="164.09" font-size="12" text-anchor="middle" fill="#111">NO3--N</text>
<text x="669.58" y="185.37" font-size="12" text-anchor="middle" fill="#111">Ra</text>
<text x="696.42" y="206.65" font-size="12" text-anchor="middle" fill="#111">Rn</text>
<text x="723.26" y="227.93" font-size="12" text-anchor="middle" fill="#111">Rm</text>
<defs><linearGradient id="cb" x1="0" y1="0" x2="0" y2="1"><stop offset="0" stop-color="rgb(255,0,0)"/><stop offset="0.5" stop-color="#fff"/><stop offset="1" stop-color="rgb(0,0,165)"/></linearGradient></defs>
<rect x="733.9" y="4.5" width="18.7" height="246.8" fill="url(#cb)" stroke="#555" stroke-width="0.8"/>
<line x1="752.6" y1="4.50" x2="757.4" y2="4.50" stroke="#444" stroke-width="0.9"/>
<text x="761.6" y="8.50" font-size="11.6" fill="#111">1</text>
<line x1="752.6" y1="29.18" x2="757.4" y2="29.18" stroke="#444" stroke-width="0.9"/>
<text x="761.6" y="33.18" font-size="11.6" fill="#111">0.8</text>
<line x1="752.6" y1="53.86" x2="757.4" y2="53.86" stroke="#444" stroke-width="0.9"/>
<text x="761.6" y="57.86" font-size="11.6" fill="#111">0.6</text>
<line x1="752.6" y1="78.54" x2="757.4" y2="78.54" stroke="#444" stroke-width="0.9"/>
<text x="761.6" y="82.54" font-size="11.6" fill="#111">0.4</text>
<line x1="752.6" y1="103.22" x2="757.4" y2="103.22" stroke="#444" stroke-width="0.9"/>
<text x="761.6" y="107.22" font-size="11.6" fill="#111">0.2</text>
<line x1="752.6" y1="127.90" x2="757.4" y2="127.90" stroke="#444" stroke-width="0.9"/>
<text x="761.6" y="131.90" font-size="11.6" fill="#111">0</text>
<line x1="752.6" y1="152.58" x2="757.4" y2="152.58" stroke="#444" stroke-width="0.9"/>
<text x="761.6" y="156.58" font-size="11.6" fill="#111">-0.2</text>
<line x1="752.6" y1="177.26" x2="757.4" y2="177.26" stroke="#444" stroke-width="0.9"/>
<text x="761.6" y="181.26" font-size="11.6" fill="#111">-0.4</text>
<line x1="752.6" y1="201.94" x2="757.4" y2="201.94" stroke="#444" stroke-width="0.9"/>
<text x="761.6" y="205.94" font-size="11.6" fill="#111">-0.6</text>
<line x1="752.6" y1="226.62" x2="757.4" y2="226.62" stroke="#444" stroke-width="0.9"/>
<text x="761.6" y="230.62" font-size="11.6" fill="#111">-0.8</text>
<line x1="752.6" y1="251.30" x2="757.4" y2="251.30" stroke="#444" stroke-width="0.9"/>
<text x="761.6" y="255.30" font-size="11.6" fill="#111">-1</text>
<text x="405.1" y="283.3" font-size="12" fill="#111" xml:space="preserve">* p&lt;=0.05  ** p&lt;=0.01</text>
</svg>
</body></html>
